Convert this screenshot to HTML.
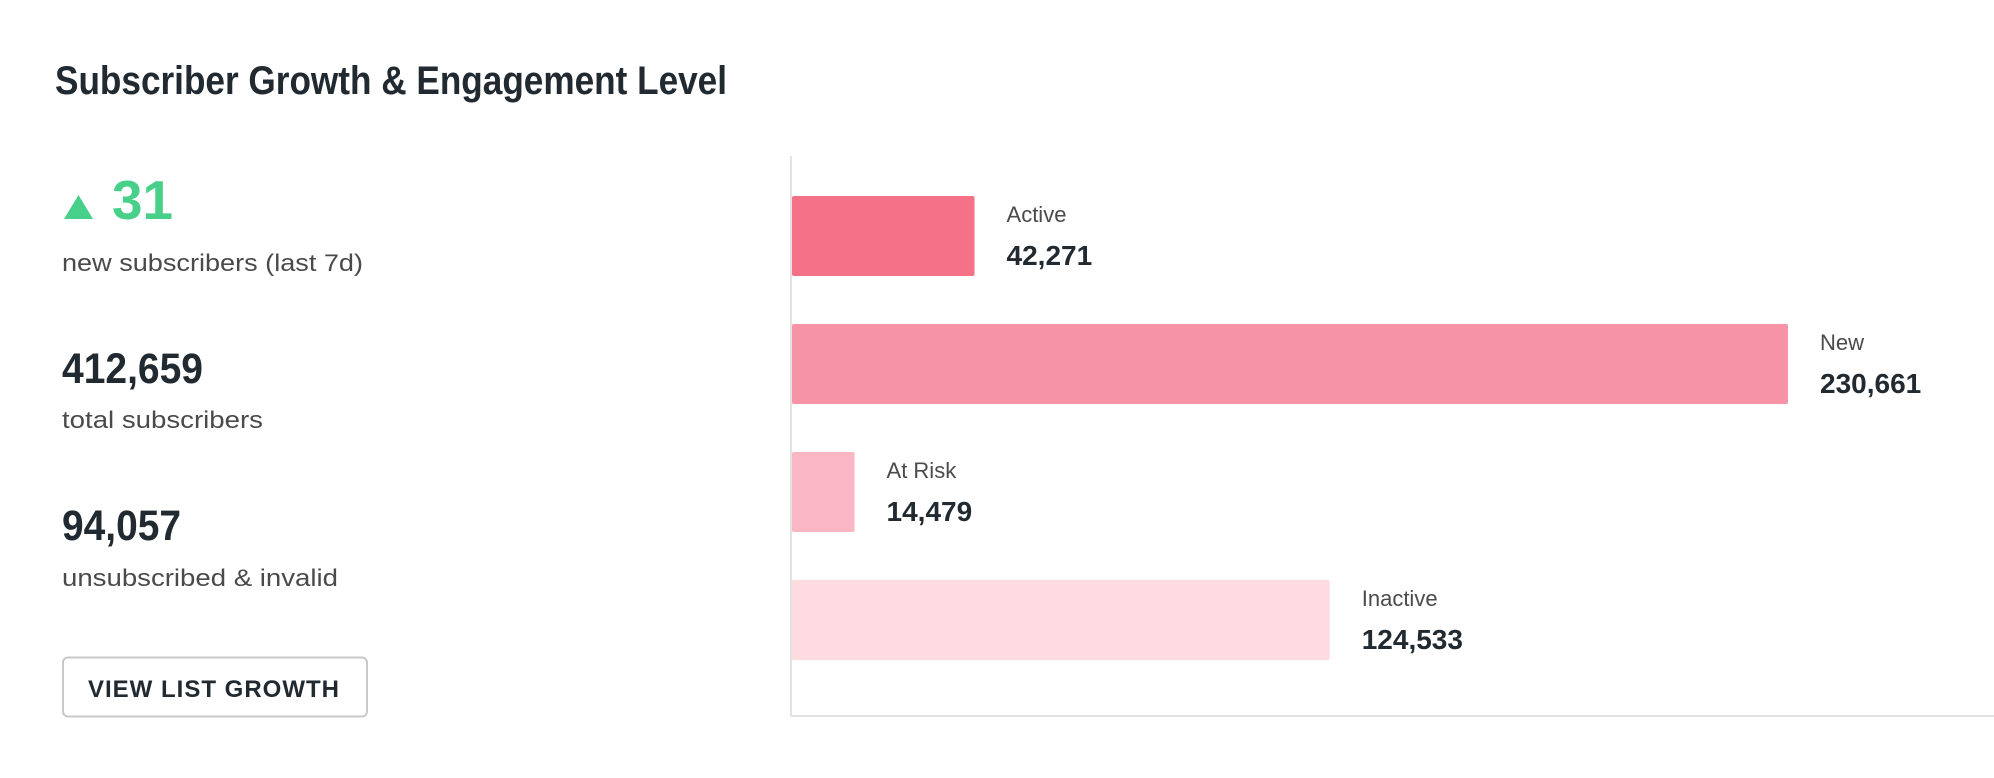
<!DOCTYPE html>
<html><head><meta charset="utf-8"><style>
html,body{margin:0;padding:0;background:#fff;}
svg{display:block;font-family:"Liberation Sans",sans-serif;}
</style></head><body>
<svg id="chart" width="1994" height="778" viewBox="0 0 1994 778" xmlns="http://www.w3.org/2000/svg">
<text x="55" y="94" font-size="40" font-weight="bold" fill="#212a31" textLength="672" lengthAdjust="spacingAndGlyphs">Subscriber Growth &amp; Engagement Level</text>
<polygon points="64,219 93,219 78.5,195" fill="#48cf8a"/>
<text x="112" y="219" font-size="55" font-weight="bold" fill="#48cf8a" textLength="61" lengthAdjust="spacingAndGlyphs">31</text>
<text x="62" y="271" font-size="24" fill="#4a4a4a" textLength="301" lengthAdjust="spacingAndGlyphs">new subscribers (last 7d)</text>
<text x="62" y="383" font-size="43" font-weight="bold" fill="#212a31" textLength="141" lengthAdjust="spacingAndGlyphs">412,659</text>
<text x="62" y="428" font-size="24" fill="#4a4a4a" textLength="201" lengthAdjust="spacingAndGlyphs">total subscribers</text>
<text x="62" y="540" font-size="43" font-weight="bold" fill="#212a31" textLength="119" lengthAdjust="spacingAndGlyphs">94,057</text>
<text x="62" y="586" font-size="24" fill="#4a4a4a" textLength="276" lengthAdjust="spacingAndGlyphs">unsubscribed &amp; invalid</text>
<g>
<rect x="63" y="657.5" width="304" height="59" rx="5" fill="#fff" stroke="#c8c8c8" stroke-width="2"/>
<text x="88" y="697" font-size="24" font-weight="bold" fill="#212a31" textLength="251" lengthAdjust="spacing">VIEW LIST GROWTH</text>
</g>
<line x1="791" y1="156" x2="791" y2="717" stroke="#e3e3e3" stroke-width="2"/>
<line x1="790" y1="716" x2="1994" y2="716" stroke="#e3e3e3" stroke-width="2"/>
<g id="bars"></g>
</svg>
<script>
const categories = ["Active", "New", "At Risk", "Inactive"];
const values = [42271, 230661, 14479, 124533];
const valueLabels = ["42,271", "230,661", "14,479", "124,533"];
const colors = ["#f47188", "#f793a6", "#f9b7c5", "#fddbe1"];
const NS = "http://www.w3.org/2000/svg";
const x0 = 792, pxPerUnit = 996 / 230661;
const xScale = v => x0 + v * pxPerUnit;
const bandTop = 196, bandStep = 128, barH = 80;
const yScale = i => bandTop + i * bandStep;
const g = document.getElementById("bars");
categories.forEach((c, i) => {
  const y = yScale(i), xe = xScale(values[i]);
  const r = document.createElementNS(NS, "rect");
  
  
  r.setAttribute("x", x0); r.setAttribute("y", y);
  r.setAttribute("width", xe - x0); r.setAttribute("height", barH);
  r.setAttribute("rx", 2); r.setAttribute("fill", colors[i]);
  g.appendChild(r);
  const t = document.createElementNS(NS, "text");
  
  
  t.setAttribute("x", xe + 32); t.setAttribute("y", y + 26);
  t.setAttribute("font-size", "22"); t.setAttribute("fill", "#4a4a4a");
  t.textContent = c;
  g.appendChild(t);
  const v = document.createElementNS(NS, "text");
  
  
  v.setAttribute("x", xe + 32); v.setAttribute("y", y + 69);
  v.setAttribute("font-size", "28"); v.setAttribute("font-weight", "bold"); v.setAttribute("fill", "#212a31");
  v.textContent = valueLabels[i];
  g.appendChild(v);
});
</script>
</body></html>
